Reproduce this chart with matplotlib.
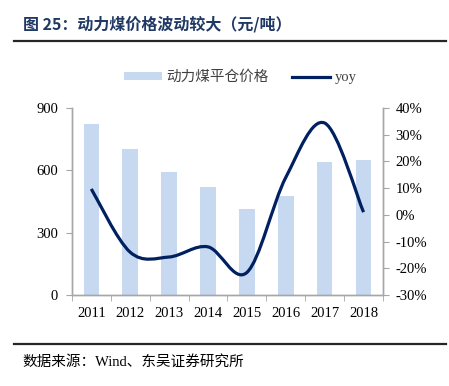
import matplotlib
matplotlib.use("Agg")
import matplotlib.pyplot as plt
from matplotlib.path import Path
from matplotlib.patches import PathPatch, Patch
from matplotlib.lines import Line2D
from matplotlib.ticker import FixedLocator

plt.rcParams['font.family'] = ['Liberation Serif', 'Noto Sans CJK SC']

years = ["2011", "2012", "2013", "2014", "2015", "2016", "2017", "2018"]
price = [822, 705, 592, 518, 414, 476, 641, 650]
yoy = [9.7, -14.0, -15.8, -12.0, -21.6, 14.0, 34.4, 1.0]

bar_color = "#C6D9F0"
line_color = "#002060"
spine_color = "#A6A6A6"
cjk = ['Noto Sans CJK SC', 'DejaVu Sans']

fig = plt.figure(figsize=(4.49, 3.86), dpi=100)
ax = fig.add_axes([0.160, 0.236, 0.693, 0.484])
ax2 = ax.twinx()

x = list(range(len(years)))
ax.bar(x, price, width=0.4, color=bar_color, zorder=1)

# smoothed line like excel: bezier through the yoy points
pts = list(zip(x, yoy))
verts = [pts[0]]
codes = [Path.MOVETO]
n = len(pts)
for i in range(n - 1):
    p0 = pts[max(i - 1, 0)]
    p1 = pts[i]
    p2 = pts[i + 1]
    p3 = pts[min(i + 2, n - 1)]
    c1 = (p1[0] + (p2[0] - p0[0]) / 6, p1[1] + (p2[1] - p0[1]) / 6)
    c2 = (p2[0] - (p3[0] - p1[0]) / 6, p2[1] - (p3[1] - p1[1]) / 6)
    verts += [c1, c2, p2]
    codes += [Path.CURVE4] * 3
ax2.add_patch(PathPatch(Path(verts, codes), fill=False, edgecolor=line_color,
                        lw=2.3, capstyle='butt', zorder=3))

ax.set_xlim(-0.5, len(years) - 0.5)
ax.set_ylim(0, 900)
ax.set_yticks([0, 300, 600, 900])
ax2.set_ylim(-30, 40)
ax2.set_yticks(range(-30, 41, 10))
ax2.set_yticklabels([f"{v}%" for v in range(-30, 41, 10)])

ax.set_xticks(x)
ax.set_xticklabels(years)
ax.xaxis.set_minor_locator(FixedLocator([i - 0.5 for i in range(len(years) + 1)]))
ax.tick_params(axis='x', which='major', length=0, pad=9, labelsize=10.5)
ax.tick_params(axis='x', which='minor', length=4, color=spine_color, direction='out')
ax.tick_params(axis='y', length=4, color=spine_color, labelsize=10.5, pad=6)
ax2.tick_params(axis='y', length=4, color=spine_color, labelsize=10.5, pad=5)

for a in (ax, ax2):
    a.spines['top'].set_visible(False)
    for s in ('left', 'right', 'bottom'):
        a.spines[s].set_color(spine_color)
        a.spines[s].set_linewidth(1.0)

handles = [Patch(facecolor=bar_color, edgecolor='none'),
           Line2D([0], [0], color=line_color, lw=2.3)]
leg = fig.legend(handles, ["动力煤平仓价格", "yoy"], loc='center',
                 bbox_to_anchor=(0.535, 0.80), ncol=2, frameon=False,
                 handlelength=2.6, handleheight=0.5, handletextpad=0.3,
                 columnspacing=1.6, prop={'family': cjk, 'size': 10.5})
leg.get_texts()[1].set_fontfamily(['Liberation Serif'])
for t in leg.get_texts():
    t.set_color("#404040")

fig.text(0.052, 0.937, "图 25：动力煤价格波动较大（元/吨）", fontsize=11.5,
         fontweight='bold', color="#1F3864", family=cjk, va='center')
fig.add_artist(Line2D([0.031, 0.994], [0.894, 0.894], color="#262626", lw=1.6))
fig.add_artist(Line2D([0.031, 0.994], [0.109, 0.109], color="#262626", lw=1.6))
fig.text(0.05, 0.062, "数据来源：Wind、东吴证券研究所", fontsize=10.5,
         color="#000000", va='center')

fig.savefig("out.png", dpi=100)
